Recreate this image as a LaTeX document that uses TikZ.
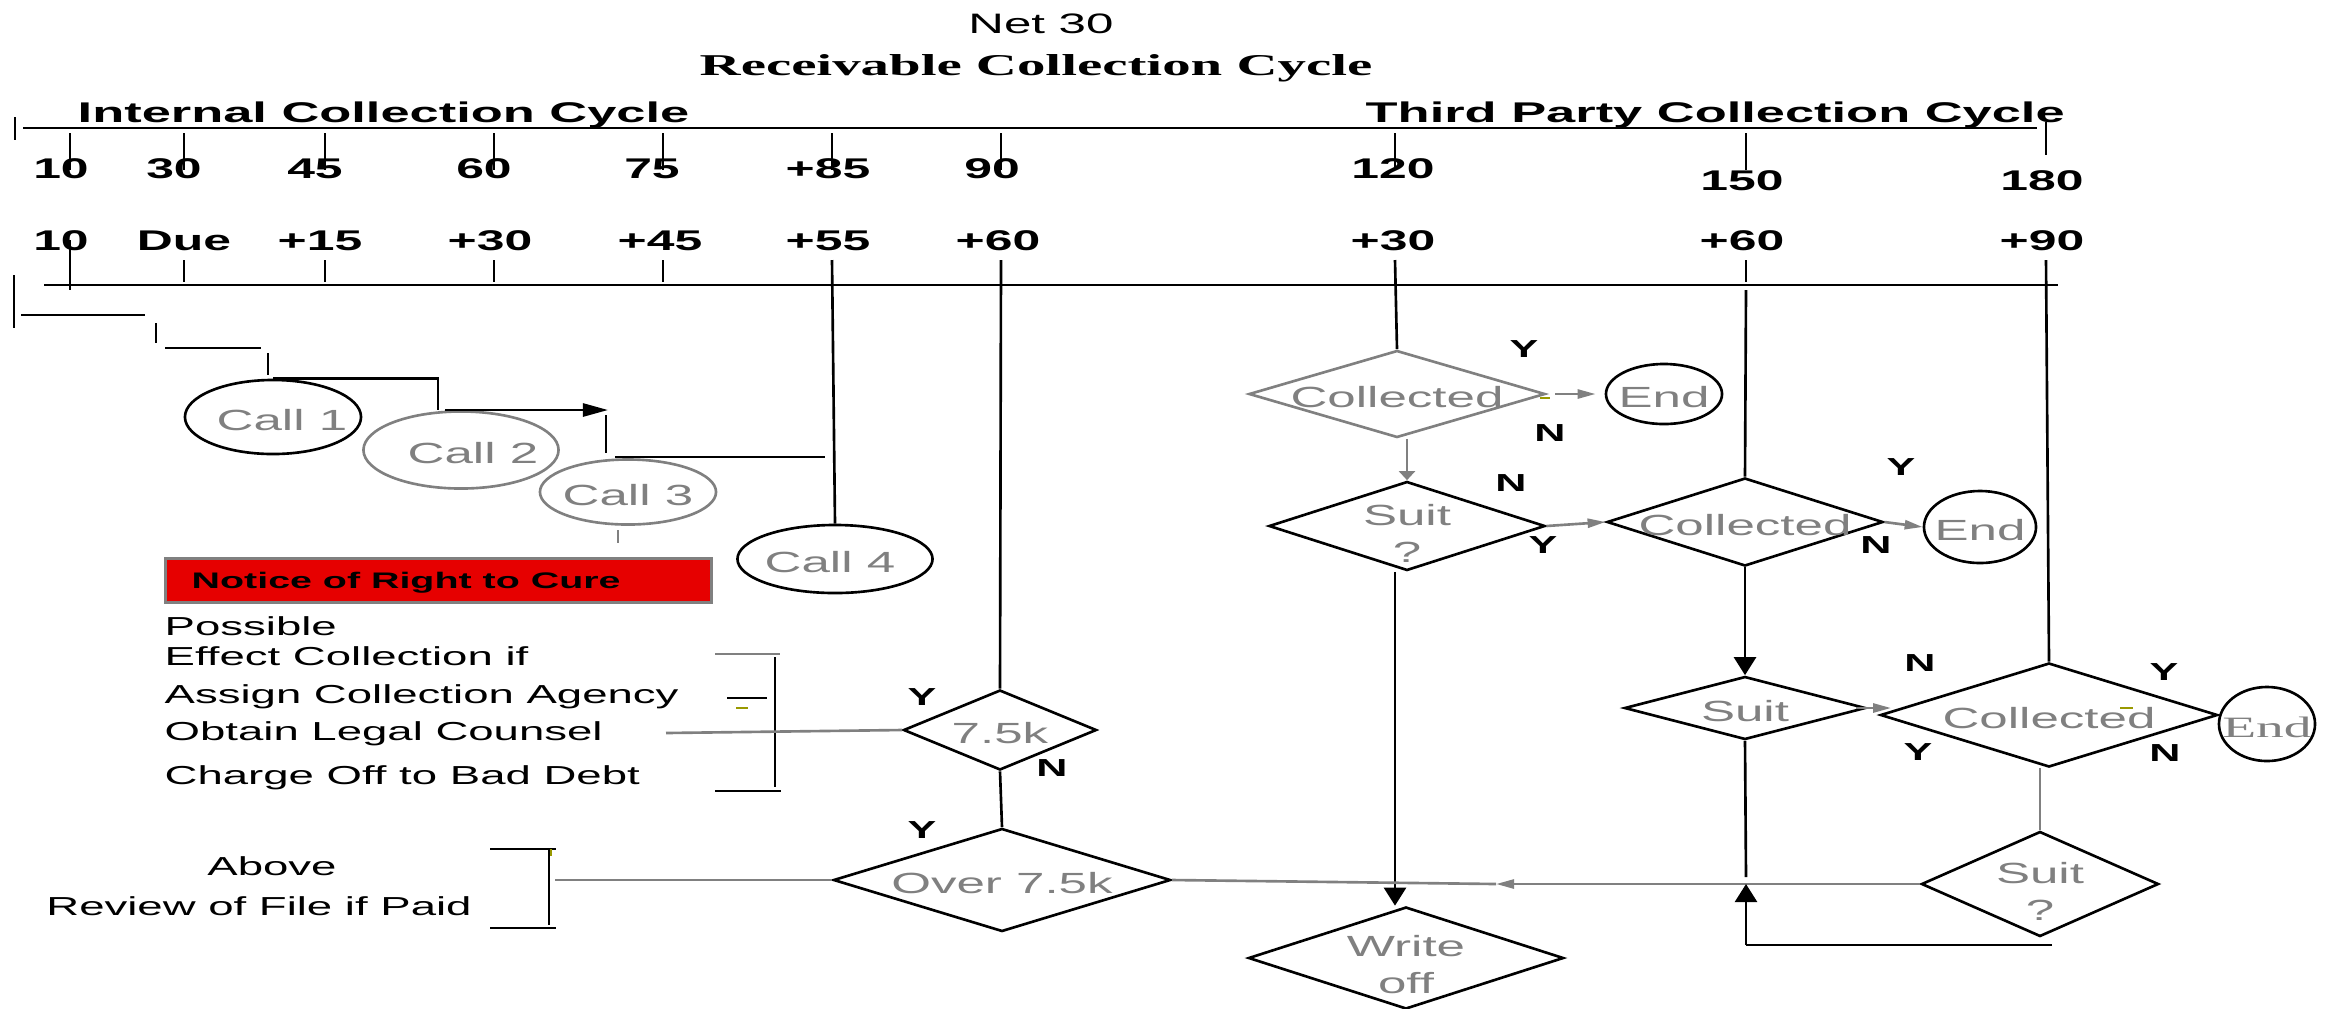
\documentclass[tikz,border=0pt]{standalone}
\usepackage{fontspec}
\newfontfamily\sfw[FakeStretch=1.75]{Liberation Sans}
\newfontfamily\sfwh[FakeStretch=1.84]{Liberation Sans}
\newfontfamily\rmw[FakeStretch=1.88]{Liberation Serif}
\usetikzlibrary{shapes.geometric, arrows.meta}
\definecolor{cure}{RGB}{230,0,0}
\definecolor{olivemark}{RGB}{153,153,0}

\begin{document}
\begin{tikzpicture}[
        x=0.01cm, y=-0.01cm,
        % lines
        line/.style={line width=0.75pt, black},
        gline/.style={line width=0.75pt, gray},
        harr/.style={-{Triangle[length=0.25cm, width=0.13cm]}},
        varr/.style={-{Triangle[length=0.18cm, width=0.22cm]}},
        gharr/.style={-{Triangle[length=0.18cm, width=0.09cm]}},
        gvarr/.style={-{Triangle[length=0.09cm, width=0.16cm]}},
        % texts
        head/.style={font=\sfw\bfseries\fontsize{8.1}{9}\selectfont, inner sep=0pt},
        cycle/.style={font=\sfwh\bfseries\fontsize{8.1}{9}\selectfont, inner sep=0pt, anchor=base west},
        yn/.style={font=\sfw\bfseries\fontsize{7}{8}\selectfont, inner sep=0pt},
        gtxt/.style={text=gray, font=\sfw\fontsize{8.3}{10.5}\selectfont, align=center, inner sep=0pt, yshift=-0.03cm},
        gtwo/.style={gtxt, yshift=-0.04cm},
        lst/.style={font=\sfw\fontsize{7.4}{8}\selectfont, inner sep=0pt, anchor=base west},
        % shapes
        dia/.style={diamond, draw, line width=0.75pt, inner sep=0pt},
        oval/.style={ellipse, draw, line width=0.75pt, inner sep=0pt}
    ]
    \useasboundingbox (0,0) rectangle (2333,1008);

    % --- Titles ---
    \node[font=\sfw\fontsize{8}{9}\selectfont, anchor=base, inner sep=0pt] (net) at (1041,33) {Net 30};
    \node[font=\rmw\bfseries\fontsize{8.6}{9}\selectfont, anchor=base, inner sep=0pt] (rcc) at (1036,75) {Receivable Collection Cycle};
    \node[cycle] (icc) at (77,122) {Internal Collection Cycle};
    \node[cycle] (tpc) at (1365,122) {Third Party Collection Cycle};

    % --- Upper scale ---
    \draw[line] (15,117) -- (15,140);
    \draw[line] (23,128) -- (2037,128);
    \foreach \x in {70,184,325,494,663,832,1001,1395,1746}
        \draw[line] (\x,133) -- (\x,170);
    \draw[line] (2046,122) -- (2046,155);
    \foreach \x/\t [count=\i] in {61/10, 174/30, 315/45, 484/60, 652/75, 828/+85, 992/90, 1393/120}
        \node[head, anchor=base] (up\i) at (\x,178) {\t};
    \node[head, anchor=base] (up9) at (1742,190) {150};
    \node[head, anchor=base] (up10) at (2042,190) {180};

    % --- Lower scale ---
    \foreach \x/\t [count=\i] in {61/10, 184/Due, 320/+15, 490/+30, 660/+45, 828/+55, 998/+60, 1393/+30, 1742/+60, 2042/+90}
        \node[head, anchor=base] (lo\i) at (\x,250) {\t};
    \draw[line] (14,275) -- (14,328);
    \draw[line] (44,285) -- (2058,285);
    \draw[line] (70,240) -- (70,290);
    \foreach \x in {184,325,494,663,1746}
        \draw[line] (\x,260) -- (\x,282);

    % --- Calls ---
    \node[oval, minimum width=1.76cm, minimum height=0.74cm, label={[gtxt, xshift=0.09cm]center:Call 1}] (c1) at (273,417) {};
    \node[oval, gray, minimum width=1.95cm, minimum height=0.77cm, label={[gtxt, xshift=0.12cm]center:Call 2}] (c2) at (461,450) {};
    \node[oval, gray, minimum width=1.76cm, minimum height=0.65cm, label={[gtxt]center:Call 3}] (c3) at (628,492) {};
    \node[oval, minimum width=1.95cm, minimum height=0.68cm, label={[gtxt, xshift=-0.05cm]center:Call 4}] (c4) at (835,559) {};

    % staircase
    \draw[line] (21,315) -- (145,315);
    \draw[line] (156,323) -- (156,343);
    \draw[line] (165,348) -- (261,348);
    \draw[line] (268,353) -- (268,375);
    \draw[line] (c1.north) -| (438,410);
    \draw[line, harr] (445,410) -- (608,410);
    \draw[line] (606,415) -- (606,453);
    \draw[line] (615,457) -- (825,457);
    \draw[gline, line width=0.5pt] (618,530) -- (618,543);

    % --- Notice box and list ---
    \node[draw=gray, fill=cure, line width=0.75pt, anchor=north west, inner sep=0pt,
          minimum width=5.46cm, minimum height=0.44cm] (cure) at (164,557) {};
    \node[font=\sfw\bfseries\fontsize{6.4}{7}\selectfont, anchor=base west, inner sep=0pt] (curetxt) at (191,588) {Notice of Right to Cure};
    \node[lst] (l1) at (164,635) {Possible};
    \node[lst] (l2) at (164,665) {Effect Collection if};
    \node[lst] (l3) at (164,703) {Assign Collection Agency};
    \node[lst] (l4) at (164,740) {Obtain Legal Counsel};
    \node[lst] (l5) at (164,784) {Charge Off to Bad Debt};
    \node[lst, anchor=base] (l6) at (272,875) {Above};
    \node[lst, anchor=base] (l7) at (259,915) {Review of File if Paid};

    % brackets
    \draw[gline] (715,654) -- (780,654);
    \draw[line] (775,657) -- (775,787);
    \draw[line] (715,791) -- (781,791);
    \draw[line] (727,698) -- (767,698);
    \draw[olivemark, line width=0.75pt] (736,708) -- (748,708);
    \draw[line] (490,849) -- (556,849);
    \draw[line] (549,848) -- (549,925);
    \draw[line] (490,928) -- (556,928);
    \draw[olivemark, line width=0.75pt] (551,849) -- (551,856);

    % --- Internal decisions ---
    \node[dia, minimum width=1.93cm, minimum height=0.80cm, label={[gtxt]center:7.5k}] (d75) at (1000,730) {};
    \node[dia, minimum width=3.37cm, minimum height=1.03cm, label={[gtxt]center:Over 7.5k}] (o75) at (1002,880) {};
    \node[yn] (y1) at (922,697) {Y};
    \node[yn] (n1) at (1052,768) {N};
    \node[yn] (y2) at (922,830) {Y};

    \coordinate (t55) at (832,260);
    \coordinate (t60) at (1001,260);
    \draw[line] (t55) -- (c4.north);
    \draw[line] (t60) -- (d75.north);
    \draw[line] (d75.south) -- (o75.north);
    \draw[gline] (666,733) -- (d75.west);
    \draw[gline] (555,880) -- (o75.west);

    % --- Third party decisions ---
    \node[dia, gray, minimum width=2.96cm, minimum height=0.87cm, label={[gtxt]center:Collected}] (col1) at (1397,394) {};
    \node[oval, minimum width=1.16cm, minimum height=0.60cm, label={[gtxt]center:End}] (end1) at (1664,394) {};
    \node[dia, minimum width=2.76cm, minimum height=0.89cm, label={[gtwo]center:Suit\\?}] (suit1) at (1407,526) {};
    \node[dia, minimum width=2.76cm, minimum height=0.88cm, label={[gtxt]center:Collected}] (col2) at (1745,522) {};
    \node[oval, minimum width=1.12cm, minimum height=0.72cm, label={[gtxt]center:End}] (end2) at (1980,527) {};
    \node[dia, minimum width=2.41cm, minimum height=0.63cm, label={[gtxt]center:Suit}] (suit) at (1745,708) {};
    \node[dia, minimum width=3.37cm, minimum height=1.04cm, label={[gtxt]center:Collected}] (col3) at (2049,715) {};
    \node[oval, minimum width=0.96cm, minimum height=0.74cm,
          label={[gtxt, font=\rmw\fontsize{8.4}{9}\selectfont]center:End}] (end3) at (2267,724) {};
    \node[dia, minimum width=2.37cm, minimum height=1.05cm, label={[gtwo]center:Suit\\?}] (suit2) at (2040,884) {};
    \node[dia, minimum width=3.15cm, minimum height=1.02cm, label={[gtwo]center:Write\\off}] (wo) at (1406,958) {};

    \node[yn] (y3) at (1524,349) {Y};
    \node[yn] (n3) at (1550,433) {N};
    \node[yn] (n4) at (1511,483) {N};
    \node[yn] (y4) at (1543,545) {Y};
    \node[yn] (y5) at (1901,467) {Y};
    \node[yn] (n5) at (1876,545) {N};
    \node[yn] (n6) at (1920,663) {N};
    \node[yn] (y6) at (2164,672) {Y};
    \node[yn] (y7) at (1918,752) {Y};
    \node[yn] (n7) at (2165,753) {N};

    \coordinate (t30) at (1395,260);
    \coordinate (t60b) at (1746,290);
    \coordinate (t90) at (2046,260);
    \draw[line] (t30) -- (col1.north);
    \draw[line] (t60b) -- (col2.north);
    \draw[line] (t90) -- (col3.north);

    \draw[gline, gharr, shorten <=0.09cm, shorten >=0.09cm] (col1.east) -- (end1.west);
    \draw[olivemark, line width=0.75pt] (1540,398) -- (1550,398);
    \draw[gline, gvarr] (col1.south -| suit1.north) -- (suit1.north);
    \draw[gline, gharr] (suit1.east) -- (col2.west);
    \draw[gline, gharr] (col2.east) -- (end2.west);
    \draw[line, varr] (suit1.south -| t30) -- (wo.north -| t30);
    \draw[line, varr] (col2.south) -- (suit.north);
    \draw[gline, gharr] ([xshift=-0.11cm]suit.east) -- ([xshift=0.12cm]suit.east -| col3.west);
    \draw[olivemark, line width=0.75pt] (2120,708) -- (2133,708);
    \draw[gline] (col3.south -| suit2.north) -- (suit2.north);

    % bottom return line
    \coordinate (mid) at (1496,884);
    \coordinate (lp) at (1746,945);
    \draw[gline, gharr] (suit2.west) -- (mid);
    \draw[gline] (mid) -- (o75.east);
    \draw[line] (suit.south) -- (1746,877);
    \draw[line] (2052,945) -- (lp);
    \draw[line, varr] (lp) -- (1746,884);

\end{tikzpicture}
\end{document}
